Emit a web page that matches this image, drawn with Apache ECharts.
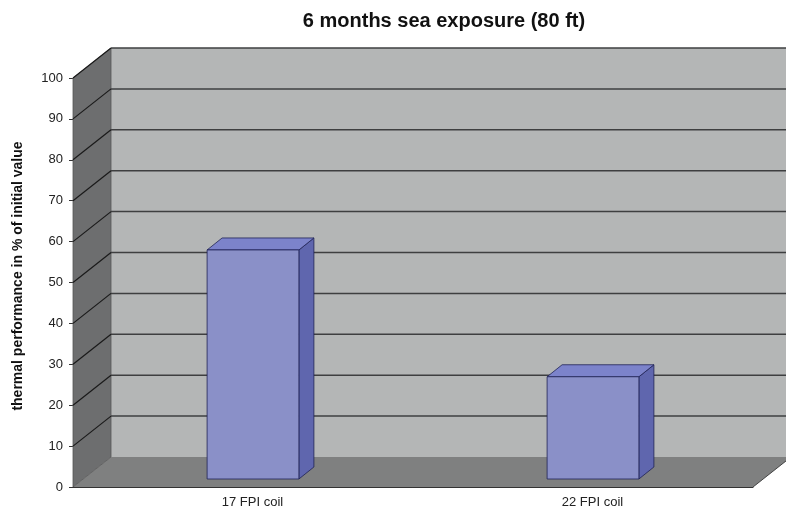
<!DOCTYPE html>
<html>
<head>
<meta charset="utf-8">
<script src="https://cdn.jsdelivr.net/npm/echarts@6/dist/echarts.min.js"></script>
<style>
html,body{margin:0;padding:0;background:#fff;}
#chart{width:786px;height:517px;}
</style>
</head>
<body>
<div id="chart"></div>
<script>
// ---- data ----
var categories = ['17 FPI coil', '22 FPI coil'];
var values = [56, 25];
var yTicks = [0, 10, 20, 30, 40, 50, 60, 70, 80, 90, 100];
var titleText = '6 months sea exposure (80 ft)';
var yAxisTitle = 'thermal performance in % of initial value';

// ---- styling constants ----
var DX = 38, DY = -30;          // depth offset of back wall
var BAR_FX = 10, BAR_FY = -8;   // bar front plane offset
var BAR_DX = 15, BAR_DY = -12;  // bar depth
var BAR_W = 0.27;               // fraction of band
var FONT = 'Arial, "Liberation Sans", sans-serif';

var chart = echarts.init(document.getElementById('chart'));

function frameRender(params, api) {
  var cs = params.coordSys;
  var x = cs.x, y = cs.y, w = cs.width, h = cs.height;
  var children = [];
  children.push({type: 'rect', shape: {x: x + DX, y: y + DY, width: w + 10, height: h},
    style: {fill: '#b4b6b6'}});
  children.push({type: 'polygon', shape: {points: [[x, y + h], [x + w, y + h], [x + w + DX, y + h + DY], [x + DX, y + h + DY]]},
    style: {fill: '#7f8080'}});
  children.push({type: 'polygon', shape: {points: [[x, y], [x + DX, y + DY], [x + DX, y + h + DY], [x, y + h]]},
    style: {fill: '#6d6e6f', stroke: '#555', lineWidth: 0.8}});
  for (var i = 0; i < yTicks.length; i++) {
    var v = yTicks[i];
    if (v === 0) continue;
    var yy = api.coord([0, v])[1];
    children.push({type: 'line', shape: {x1: x + DX, y1: yy + DY, x2: x + w + DX + 10, y2: yy + DY},
      style: {stroke: '#3e3f40', lineWidth: 1.5}});
    children.push({type: 'line', shape: {x1: x, y1: yy, x2: x + DX, y2: yy + DY},
      style: {stroke: '#1a1a1a', lineWidth: 1.2}});
  }
  children.push({type: 'line', shape: {x1: x + w, y1: y + h, x2: x + w + DX, y2: y + h + DY},
    style: {stroke: '#444', lineWidth: 1}});
  return {type: 'group', children: children};
}

function barRender(params, api) {
  var idx = api.value(0);
  var val = api.value(1);
  var top = api.coord([idx, val]);
  var base = api.coord([idx, 0]);
  var band = api.size([1, 0])[0];
  var bw = band * BAR_W;
  var x0 = top[0] - bw / 2 + BAR_FX;
  var x1 = x0 + bw;
  var yt = top[1] + BAR_FY;
  var yb = base[1] + BAR_FY;
  var edge = {stroke: '#1f2255', lineWidth: 0.8};
  return {type: 'group', children: [
    {type: 'polygon', shape: {points: [[x1, yt], [x1 + BAR_DX, yt + BAR_DY], [x1 + BAR_DX, yb + BAR_DY], [x1, yb]]},
      style: Object.assign({fill: '#5f66ae'}, edge)},
    {type: 'polygon', shape: {points: [[x0, yt], [x0 + BAR_DX, yt + BAR_DY], [x1 + BAR_DX, yt + BAR_DY], [x1, yt]]},
      style: Object.assign({fill: '#7c83cb'}, edge)},
    {type: 'rect', shape: {x: x0, y: yt, width: bw, height: yb - yt},
      style: Object.assign({fill: '#8a90c8'}, edge)}
  ]};
}

var option = {
  backgroundColor: '#ffffff',
  animation: false,
  grid: {left: 73, right: 33, top: 78, bottom: 30, containLabel: false},
  graphic: [
    {type: 'text', x: 444, y: 21, style: {text: titleText, align: 'center', verticalAlign: 'middle',
      font: 'bold 20px ' + FONT, fill: '#111'}},
    {type: 'text', x: 18, y: 276, rotation: Math.PI / 2, style: {text: yAxisTitle, align: 'center', verticalAlign: 'middle',
      font: 'bold 14px ' + FONT, fill: '#111'}}
  ],
  xAxis: {
    type: 'category',
    data: categories,
    boundaryGap: true,
    axisLine: {show: true, lineStyle: {color: '#333', width: 1}},
    axisTick: {show: false},
    axisLabel: {margin: 9, padding: [0, 0, 0, 19], fontSize: 13, color: '#222', fontFamily: FONT},
    splitLine: {show: false}
  },
  yAxis: {
    type: 'value',
    min: 0, max: 100, interval: 10,
    axisLine: {show: true, lineStyle: {color: '#444', width: 1}},
    axisTick: {show: true, length: 4, lineStyle: {color: '#333'}},
    axisLabel: {margin: 10, fontSize: 13, color: '#222', fontFamily: FONT},
    splitLine: {show: false}
  },
  series: [
    {type: 'custom', name: 'frame', renderItem: frameRender, data: [[0, 0]], silent: true, clip: false, z: 1},
    {type: 'custom', name: 'bars', renderItem: barRender,
      data: values.map(function (v, i) { return [i, v]; }), silent: true, clip: false, z: 2}
  ]
};
chart.setOption(option);
</script>
</body>
</html>
